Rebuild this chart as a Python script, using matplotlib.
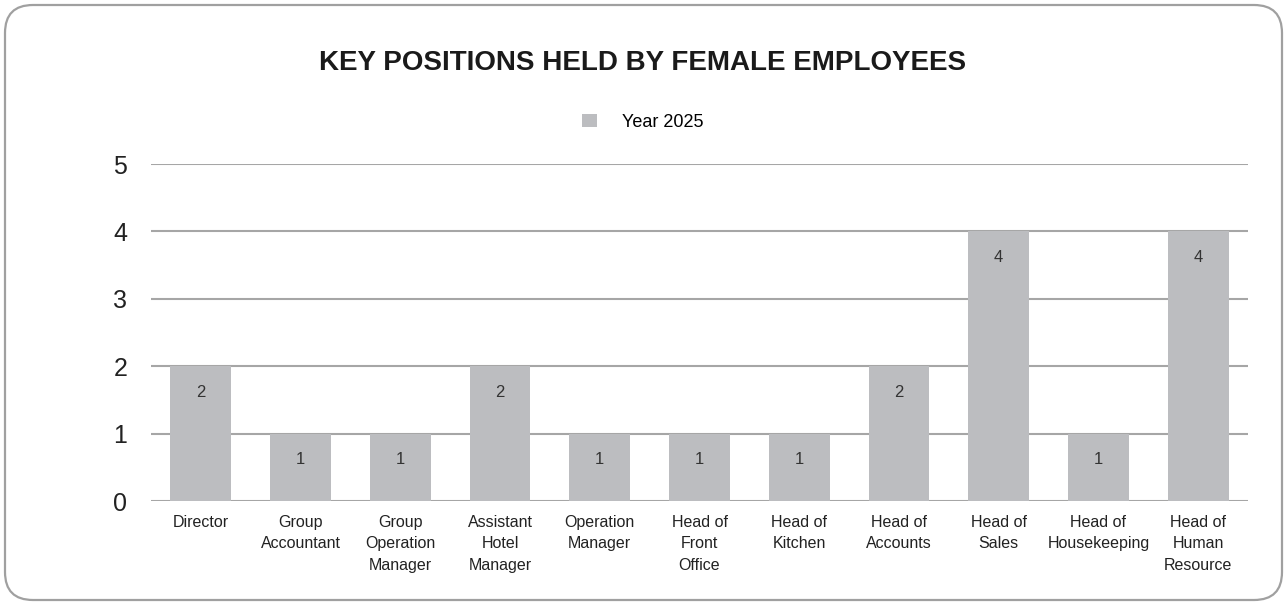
import numpy as np
import matplotlib
matplotlib.use("Agg")
from matplotlib import pyplot as plt
from matplotlib.patches import FancyBboxPatch

positions = ["Director", "Group\nAccountant", "Group\nOperation\nManager",
             "Assistant\nHotel\nManager", "Operation\nManager", "Head of\nFront\nOffice",
             "Head of\nKitchen", "Head of\nAccounts", "Head of\nSales",
             "Head of\nHousekeeping", "Head of\nHuman\nResource"]
year_2025 = [2, 1, 1, 2, 1, 1, 1, 2, 4, 1, 4]
y_ticks = [0, 1, 2, 3, 4, 5]

bar_color = "#bcbdc0"
grid_color = "#a6a6a6"
sans = ["Liberation Sans", "DejaVu Sans"]

fig = plt.figure(figsize=(12.86, 6.05), dpi=100)
ax = fig.add_axes([0.1174, 0.1719, 0.8531, 0.557])

x = np.arange(len(positions))
ax.bar(x, year_2025, width=0.61, color=bar_color, zorder=2, label="Year 2025")

# value labels just under the top of each bar
for xi, v in zip(x, year_2025):
    ax.text(xi, v - 0.39, str(v), ha="center", va="center", fontsize=12,
            family=sans, color="#333333", zorder=3)

ax.set_xlim(-0.5, len(positions) - 0.5)
ax.set_ylim(0, 5)
ax.set_yticks(y_ticks)
ax.set_yticklabels([str(t) for t in y_ticks], fontsize=18, family=sans,
                   color="#222222")
ax.set_xticks(x)
ax.set_xticklabels(positions, fontsize=11.5, family=sans, color="#222222",
                   linespacing=1.55)
ax.tick_params(axis="y", length=0, pad=22)
ax.tick_params(axis="x", length=0, pad=10)
for t in ax.get_yticklabels():
    t.set_horizontalalignment("center")
ax.yaxis.grid(True, color=grid_color, linewidth=1.5, zorder=1)
ax.set_axisbelow(True)
for s in ax.spines.values():
    s.set_visible(False)

fig.text(0.5, 0.896, "KEY POSITIONS HELD BY FEMALE EMPLOYEES", ha="center",
         va="center", fontsize=20, fontweight="bold", family=sans,
         color="#1a1a1a")

fig.legend(loc="center", bbox_to_anchor=(0.5, 0.798), frameon=False,
           prop={"family": sans, "size": 13},
           handlelength=0.8, handleheight=0.8, handletextpad=1.4)

# rounded frame around the whole chart
frame = FancyBboxPatch((0.05, 0.05), 12.77, 5.95,
                       boxstyle="round,pad=0,rounding_size=0.28",
                       transform=fig.dpi_scale_trans, facecolor="none",
                       edgecolor="#a0a0a0", linewidth=1.6)
fig.add_artist(frame)

fig.savefig("out.png", dpi=100)
